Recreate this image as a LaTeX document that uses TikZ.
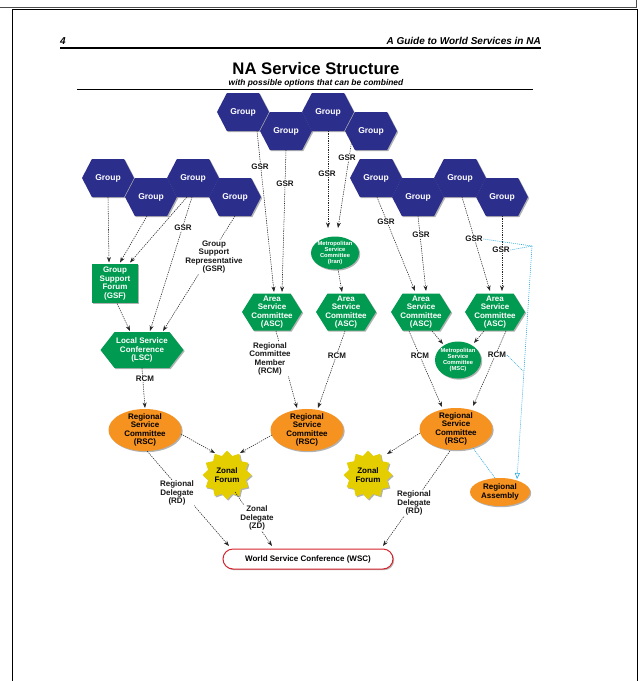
\documentclass[tikz,border=0pt]{standalone}
\usepackage{fontspec}
\setmainfont{Liberation Sans}
\usetikzlibrary{shapes.geometric,shapes.symbols,shadows,arrows.meta,calc}
\definecolor{navy}{RGB}{44,46,140}
\definecolor{grn}{RGB}{0,155,80}
\definecolor{org}{RGB}{245,146,32}
\definecolor{yel}{RGB}{228,206,0}
\definecolor{wred}{RGB}{215,35,45}
\definecolor{cyn}{RGB}{45,170,225}
\begin{document}
\begin{tikzpicture}[x=1pt,y=-1pt,
  sh/.style={drop shadow={shadow xshift=1.2pt,shadow yshift=-1.2pt,fill=black,opacity=0.3}},
  grp/.style={signal, signal to=east and west, signal pointer angle=125, fill=navy,
    minimum width=52pt, minimum height=38pt, inner sep=0pt, text=white,
    font=\bfseries\fontsize{8.5}{9}\selectfont, sh},
  wtxt/.style={text=white, font=\bfseries\fontsize{8}{8.4}\selectfont, align=center, inner sep=0pt},
  stxt/.style={text=white, font=\bfseries\fontsize{5.8}{6.2}\selectfont, align=center, inner sep=0pt},
  dtxt/.style={text=black, font=\bfseries\fontsize{8}{8.4}\selectfont, align=center, inner sep=0pt},
  ascs/.style={signal, signal to=east and west, signal pointer angle=116, fill=grn,
    minimum width=60pt, minimum height=37pt, inner sep=0pt, sh},
  lscs/.style={signal, signal to=east and west, signal pointer angle=104, fill=grn,
    minimum width=83pt, minimum height=36pt, inner sep=0pt, sh},
  gsfs/.style={rectangle, fill=grn, minimum width=46pt, minimum height=39pt, inner sep=0pt, sh},
  mscs/.style={ellipse, fill=grn, minimum width=48pt, minimum height=33pt, inner sep=0pt, sh},
  rscs/.style={ellipse, fill=org, minimum width=73pt, minimum height=42pt, inner sep=0pt, sh},
  zfs/.style={star, star points=12, star point ratio=1.25, fill=yel, minimum size=49pt, inner sep=0pt, sh},
  ras/.style={ellipse, fill=org, minimum width=60pt, minimum height=28pt, inner sep=0pt, sh},
  wscs/.style={rectangle, rounded corners=10pt, draw=wred, line width=1pt, fill=white,
    minimum width=170pt, minimum height=20pt, inner sep=0pt, text=black,
    font=\bfseries\fontsize{8}{9}\selectfont, sh},
  conn/.style={draw=black!85, dash pattern=on 1.3pt off 1pt, line width=0.55pt,
    -{Stealth[length=5.5pt,width=4pt]}},
  cyl/.style={draw=cyn, dash pattern=on 1pt off 1pt, line width=0.6pt},
  lbl/.style={fill=white, inner sep=0.6pt, align=center, text=black!90,
    font=\bfseries\fontsize{8}{8.4}\selectfont}
]
\useasboundingbox (0,0) rectangle (641,681);
% page frame
\draw[black!70, line width=0.8pt] (0,7) -- (636,7) -- (636,0);
\draw[line width=1pt] (12,690) -- (12,9) -- (637.5,9) -- (637.5,690);
% header
\node[font=\bfseries\itshape\fontsize{10}{12}\selectfont, anchor=base west, inner sep=0pt] (pg) at (60,44) {4};
\node[font=\bfseries\itshape\fontsize{10}{12}\selectfont, anchor=base east, inner sep=0pt] (hd) at (541,44) {A Guide to World Services in NA};
\draw[line width=1.8pt] (60,48) -- (541,48);
\node[font=\bfseries\fontsize{16.7}{18}\selectfont, anchor=base, inner sep=0pt] (title) at (316,74) {NA Service Structure};
\node[font=\bfseries\itshape\fontsize{8.4}{10}\selectfont, anchor=base, inner sep=0pt] (sub) at (316,85) {with possible options that can be combined};
\draw[line width=0.8pt] (77,89) -- (533,89);

% groups
\node[grp] (t1) at (243,112) {Group};
\node[grp] (t2) at (286,131) {Group};
\node[grp] (t3) at (328,112) {Group};
\node[grp] (t4) at (371,131) {Group};
\node[grp] (g1) at (108,178) {Group};
\node[grp] (g2) at (151,197) {Group};
\node[grp] (g3) at (193,178) {Group};
\node[grp] (g4) at (235,197) {Group};
\node[grp] (g5) at (376,178) {Group};
\node[grp] (g6) at (418,197) {Group};
\node[grp] (g7) at (460,178) {Group};
\node[grp] (g8) at (502,197) {Group};

% committees
\node[mscs, label={[stxt]center:{Metropolitan\\Service\\Committee\\(Iran)}}] (msci) at (335,253) {};
\node[gsfs, label={[wtxt]center:{Group\\Support\\Forum\\(GSF)}}] (gsf) at (115,283.5) {};
\node[lscs, label={[wtxt]center:{Local Service\\Conference\\(LSC)}}] (lsc) at (142,350) {};
\node[ascs, label={[wtxt]center:{Area\\Service\\Committee\\(ASC)}}] (asc1) at (272,312) {};
\node[ascs, label={[wtxt]center:{Area\\Service\\Committee\\(ASC)}}] (asc2) at (346,312) {};
\node[ascs, label={[wtxt]center:{Area\\Service\\Committee\\(ASC)}}] (asc3) at (421,312) {};
\node[ascs, label={[wtxt]center:{Area\\Service\\Committee\\(ASC)}}] (asc4) at (495,312) {};
\node[mscs, minimum width=46pt, minimum height=37pt, label={[stxt]center:{Metropolitan\\Service\\Committee\\(MSC)}}] (msc) at (458,360) {};
\node[rscs, label={[dtxt]center:{Regional\\Service\\Committee\\(RSC)}}] (rsc1) at (145,430) {};
\node[rscs, label={[dtxt]center:{Regional\\Service\\Committee\\(RSC)}}] (rsc2) at (307,430) {};
\node[rscs, label={[dtxt]center:{Regional\\Service\\Committee\\(RSC)}}] (rsc3) at (456,429) {};
\node[zfs, label={[dtxt]center:{Zonal\\Forum}}] (zf1) at (227,475) {};
\node[zfs, label={[dtxt]center:{Zonal\\Forum}}] (zf2) at (368,475) {};
\node[ras, label={[dtxt]center:{Regional\\Assembly}}] (ra) at (500,492) {};
\node[wscs] (wsc) at (308,559) {World Service Conference (WSC)};

% connectors
\draw[conn] ($(t1)+(14,19)$) -- ($(asc1)+(2,-20)$);
\draw[conn] ($(t2)+(0,19)$) -- ($(asc1)+(10,-20)$);
\draw[conn] ($(t3)+(0,19)$) -- ($(msci)+(-7,-25)$);
\draw[conn] ($(t4)+(-19,8)$) -- ($(msci)+(3,-25)$);
\draw[conn] ($(msci)+(3,16)$) -- ($(asc2)+(-4,-20)$);
\draw[conn] ($(g1)+(0,19)$) -- ($(gsf)+(-6,-21)$);
\draw[conn] ($(g2)+(-4,19)$) -- ($(gsf)+(5,-21)$);
\draw[conn] ($(g3)+(-6,19)$) -- ($(gsf)+(15,-21)$);
\draw[conn] ($(g3)+(-1,19)$) -- ($(lsc)+(8,-19)$);
\draw[conn] ($(g4)+(0,19)$) -- ($(lsc)+(21,-19)$);
\draw[conn] ($(gsf)+(2,20)$) -- ($(lsc)+(-12,-19)$);
\draw[conn] ($(lsc)+(0,18)$) -- ($(rsc1)+(0,-22)$);
\draw[conn] ($(asc1)+(4,19)$) -- ($(rsc2)+(-10,-22)$);
\draw[conn] ($(asc2)+(-1,19)$) -- ($(rsc2)+(11,-22)$);
\draw[conn] ($(asc3)+(-12,19)$) -- ($(rsc3)+(-14,-22)$);
\draw[conn] ($(asc3)+(11,19)$) -- ($(msc)+(-15,-16)$);
\draw[conn] ($(asc4)+(-11,19)$) -- ($(msc)+(16,-17)$);
\draw[conn] ($(asc4)+(11,19)$) -- ($(rsc3)+(17,-23)$);
\draw[conn] ($(g5)+(1,19)$) -- ($(asc3)+(-6,-21)$);
\draw[conn] ($(g6)+(0,19)$) -- ($(asc3)+(5,-21)$);
\draw[conn] ($(g7)+(2,19)$) -- ($(asc4)+(-5,-21)$);
\draw[conn] ($(g8)+(0,19)$) -- ($(asc4)+(7,-21)$);
\draw[conn] ($(rsc1)+(36,4)$) -- ($(zf1)+(-12,-22)$);
\draw[conn] ($(rsc2)+(-35,5)$) -- ($(zf1)+(13,-22)$);
\draw[conn] ($(rsc1)+(2,21)$) -- ($(wsc)+(-79,-13)$);
\draw[conn] ($(zf1)+(8,17)$) -- ($(wsc)+(-36,-13)$);
\draw[conn] ($(rsc3)+(-36,4)$) -- ($(zf2)+(19,-21)$);
\draw[conn] ($(rsc3)+(-6,22)$) -- ($(wsc)+(75,-13)$);

% labels
\node[lbl] (lt1) at (260,167) {GSR};
\node[lbl] (lt2) at (285,184) {GSR};
\node[lbl] (lt3) at (327,174) {GSR};
\node[lbl] (lt4) at (347,158) {GSR};
\node[lbl] (lg3) at (183,228) {GSR};
\node[lbl] (lg4) at (214,257) {Group\\Support\\Representative\\(GSR)};
\node[lbl] (llsc) at (145,379) {RCM};
\node[lbl] (lr1) at (270,359) {Regional\\Committee\\Member\\(RCM)};
\node[lbl] (lr2) at (337,356) {RCM};
\node[lbl] (lr3) at (420,356) {RCM};
\node[lbl] (lr4) at (497,355) {RCM};
\node[lbl] (lg5) at (386,222) {GSR};
\node[lbl] (lg6) at (421,235) {GSR};
\node[lbl] (lg7) at (474,239) {GSR};
\node[lbl] (lg8) at (501,250) {GSR};
\node[lbl] (ld1) at (177,493) {Regional\\Delegate\\(RD)};
\node[lbl] (lzd) at (257,518) {Zonal\\Delegate\\(ZD)};
\node[lbl] (ld3) at (414,503) {Regional\\Delegate\\(RD)};

% cyan links to Regional Assembly
\coordinate (cc) at (532,246);
\draw[cyl] (lg7.east) -- (cc);
\draw[cyl] (lg8.east) -- (cc);
\draw[cyl, -{Triangle[open,length=6pt,width=5pt]}] (cc) -- coordinate[pos=0.54] (cj) ($(ra)+(17,-13)$);
\draw[cyl] (lr4.east) -- (cj);
\draw[cyl] ($(rsc3)+(17,19)$) -- ($(ra)+(-5,-14)$);
\end{tikzpicture}
\end{document}
